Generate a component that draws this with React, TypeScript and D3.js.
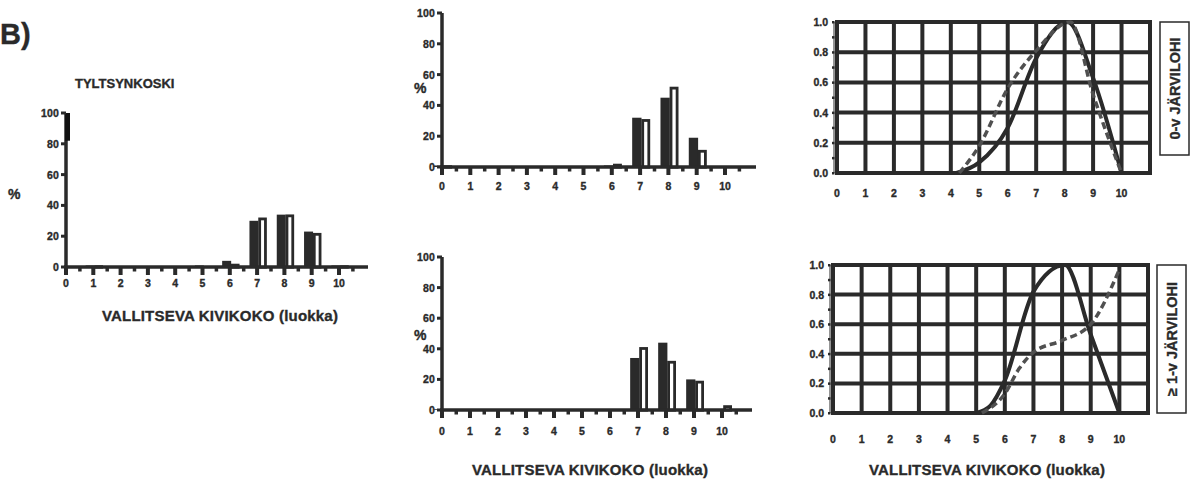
import React, { useEffect, useRef } from "react";
import * as d3 from "d3";

// stone size classes 0..10
const classes = [0, 1, 2, 3, 4, 5, 6, 7, 8, 9, 10];
const pctTicks = [0, 20, 40, 60, 80, 100];
const prefTicks = [0, 0.2, 0.4, 0.6, 0.8, 1.0];

// Tyltsynkoski histogram (dark bar / open bar per class)
const tyltFilled = [0, 1, 0.5, 0, 0, 1, 4, 30, 34, 23, 1];
const tyltOpen = [0, 1, 0.5, 0, 0.5, 0.5, 2, 32, 34, 22, 1];

// top middle histogram
const topFilled = [1, 0, 0, 0, 0, 0, 1, 32, 45, 19, 0];
const topOpen = [1, 0, 0, 0.5, 0, 0, 2, 31, 52, 11, 0];

// bottom middle histogram
const botFilled = [0.5, 0.5, 0.5, 0, 0, 0, 0, 34, 44, 20, 0];
const botOpen = [0.5, 0.5, 0, 0, 0.5, 0, 0, 41, 32, 19, 3];

// preference curves, 0-v
const p0SolidX = [4.2, 5, 6, 7, 8.1, 9, 10];
const p0SolidY = [0, 0.07, 0.3, 0.76, 1.0, 0.63, 0];
const p0DashX = [4.3, 5, 6, 7, 8.2, 9, 10];
const p0DashY = [0, 0.18, 0.56, 0.81, 1.0, 0.52, 0];

// preference curves, >=1-v
const p1SolidX = [5, 5.5, 6, 7, 8.1, 9, 10];
const p1SolidY = [0, 0.05, 0.22, 0.82, 1.0, 0.53, 0];
const p1DashX = [5.2, 6, 6.5, 7, 8, 9, 10];
const p1DashY = [0, 0.13, 0.3, 0.41, 0.49, 0.6, 0.97];

const INK = "#2a2a2a";
const FONT = "'Liberation Sans', Arial, sans-serif";
const AXIS_TITLE = "VALLITSEVA KIVIKOKO (luokka)";

// bold scanned-looking text
function ink(sel, size) {
  return sel.attr("font-size", size).attr("font-weight", "bold").attr("fill", INK)
    .attr("font-family", FONT).attr("stroke", INK).attr("stroke-width", 0.35);
}

function histogram(svg, o) {
  const x = d3.scaleLinear().domain([0, 10]).range([o.x0, o.x10]);
  const y = d3.scaleLinear().domain([0, 100]).range([o.y0, o.y100]);
  const g = svg.append("g");

  // bars
  g.selectAll(".fb").data(o.filled).join("rect")
    .attr("x", (d, i) => x(classes[i] - 0.28)).attr("width", x(0.33) - x(0))
    .attr("y", d => y(d)).attr("height", d => y(0) - y(d))
    .attr("fill", INK);
  g.selectAll(".ob").data(o.open).join("rect")
    .attr("x", (d, i) => x(classes[i] + 0.05) + 1.2).attr("width", x(0.3) - x(0) - 2.4)
    .attr("y", d => y(d) + 1.2).attr("height", d => Math.max(0, y(0) - y(d) - 1))
    .attr("fill", "white").attr("stroke", INK).attr("stroke-width", d => (d > 0 ? 2.8 : 0));

  // axes
  g.append("line").attr("x1", o.x0).attr("x2", o.x0).attr("y1", y(0) + 2).attr("y2", y(100))
    .attr("stroke", INK).attr("stroke-width", 3.5);
  if (o.heavyTop) {
    g.append("rect").attr("x", o.x0 - 1).attr("y", y(100)).attr("width", 5).attr("height", y(82) - y(100))
      .attr("fill", "#111");
  }
  g.append("line").attr("x1", o.x0 - 2).attr("x2", o.xEnd).attr("y1", y(0)).attr("y2", y(0))
    .attr("stroke", INK).attr("stroke-width", 3.5);

  g.selectAll(".yt").data(pctTicks).join("line")
    .attr("x1", o.x0 - 5).attr("x2", o.x0).attr("y1", d => y(d)).attr("y2", d => y(d))
    .attr("stroke", INK).attr("stroke-width", 3);
  ink(g.selectAll(".ytl").data(pctTicks).join("text"), 10.5)
    .attr("x", o.x0 - 7).attr("y", d => y(d) + 4).attr("text-anchor", "end")
    .attr("letter-spacing", 0.2).text(d => d);

  g.selectAll(".xt").data(classes).join("rect")
    .attr("x", d => x(d) - 2).attr("width", 4).attr("y", y(0)).attr("height", 8).attr("fill", INK);
  g.selectAll(".xm").data(classes).join("rect")
    .attr("x", d => x(d + 0.5) - 1.5).attr("width", 3.5).attr("y", y(0)).attr("height", 4.5).attr("fill", INK);
  ink(g.selectAll(".xtl").data(classes).join("text"), 10.5)
    .attr("x", d => x(d)).attr("y", o.labelY).attr("text-anchor", "middle")
    .text(d => d);

  ink(g.append("text"), 14).attr("x", o.pctX).attr("y", o.pctY).text("%");
}

function preference(svg, o) {
  const x = d3.scaleLinear().domain([0, 11]).range([o.x0, o.x11]);
  const y = d3.scaleLinear().domain([0, 1]).range([o.y0, o.y1]);
  const g = svg.append("g");

  g.selectAll(".vg").data(d3.range(0, 12)).join("line")
    .attr("x1", d => x(d)).attr("x2", d => x(d)).attr("y1", y(0)).attr("y2", y(1))
    .attr("stroke", INK).attr("stroke-width", 4).attr("stroke-linecap", "square");
  g.selectAll(".hg").data(prefTicks).join("line")
    .attr("x1", x(0)).attr("x2", x(11)).attr("y1", d => y(d)).attr("y2", d => y(d))
    .attr("stroke", INK).attr("stroke-width", 4).attr("stroke-linecap", "square");

  g.append("line").attr("x1", x(0) - 3).attr("x2", x(0) - 3).attr("y1", y(0)).attr("y2", y(1))
    .attr("stroke", INK).attr("stroke-width", 1);
  g.selectAll(".ytk").data(d3.range(0, 1.01, 0.1)).join("rect")
    .attr("x", x(0) - 5).attr("y", d => y(d) - 1).attr("width", 2.5).attr("height", 2.5).attr("fill", INK);
  ink(g.selectAll(".ytl").data(prefTicks).join("text"), 10.5)
    .attr("x", x(0) - 9).attr("y", d => y(d) + 4).attr("text-anchor", "end")
    .text(d => d.toFixed(1));
  ink(g.selectAll(".xtl").data(classes).join("text"), 10.5)
    .attr("x", d => x(d)).attr("y", o.labelY).attr("text-anchor", "middle")
    .text(d => d);

  const line = d3.line().x(d => x(d[0])).y(d => y(d[1])).curve(d3.curveMonotoneX);
  g.append("path").attr("d", line(o.solidX.map((v, i) => [v, o.solidY[i]])))
    .attr("fill", "none").attr("stroke", INK).attr("stroke-width", 4);
  g.append("path").attr("d", line(o.dashX.map((v, i) => [v, o.dashY[i]])))
    .attr("fill", "none").attr("stroke", "#505050").attr("stroke-width", 3.5).attr("stroke-dasharray", "7,4");

  // side label box
  g.append("rect").attr("x", o.boxX).attr("y", o.boxY).attr("width", 29).attr("height", o.boxH)
    .attr("fill", "white").attr("stroke", INK).attr("stroke-width", 1.5);
  const cx = o.boxX + 14.5, cy = o.boxY + o.boxH / 2;
  ink(g.append("text"), 14.5).attr("transform", `translate(${cx + 5},${cy}) rotate(-90)`)
    .attr("text-anchor", "middle").text(o.label);
}

export default function App() {
  const ref = useRef(null);

  useEffect(() => {
    const svg = d3.select(ref.current);
    svg.selectAll("*").remove();

    ink(svg.append("text"), 29).attr("x", 0).attr("y", 44).text("B)");
    ink(svg.append("text"), 13).attr("x", 75).attr("y", 88).text("TYLTSYNKOSKI");

    histogram(svg, { filled: tyltFilled, open: tyltOpen, x0: 66, x10: 339, xEnd: 368, y0: 267, y100: 113,
      labelY: 287, pctX: 8, pctY: 199, heavyTop: true });
    histogram(svg, { filled: topFilled, open: topOpen, x0: 442, x10: 725, xEnd: 756, y0: 167, y100: 13,
      labelY: 190, pctX: 414, pctY: 93 });
    histogram(svg, { filled: botFilled, open: botOpen, x0: 442, x10: 722, xEnd: 752, y0: 410, y100: 257,
      labelY: 435, pctX: 414, pctY: 340 });

    preference(svg, { x0: 837, x11: 1150, y0: 173, y1: 22, labelY: 197,
      solidX: p0SolidX, solidY: p0SolidY, dashX: p0DashX, dashY: p0DashY,
      boxX: 1160, boxY: 22, boxH: 133, label: "0-v JÄRVILOHI" });
    preference(svg, { x0: 833, x11: 1148, y0: 413, y1: 265, labelY: 443,
      solidX: p1SolidX, solidY: p1SolidY, dashX: p1DashX, dashY: p1DashY,
      boxX: 1157, boxY: 265, boxH: 148, label: "≥ 1-v JÄRVILOHI" });

    const titles = [[220, 321], [590, 475], [987, 475]];
    ink(svg.selectAll(".at").data(titles).join("text"), 15)
      .attr("x", d => d[0]).attr("y", d => d[1]).attr("text-anchor", "middle")
      .attr("letter-spacing", 0.2).text(AXIS_TITLE);
  }, []);

  return (
    <svg ref={ref} width={1191} height={482}
      style={{ position: "absolute", left: 0, top: 0, background: "white" }} />
  );
}
